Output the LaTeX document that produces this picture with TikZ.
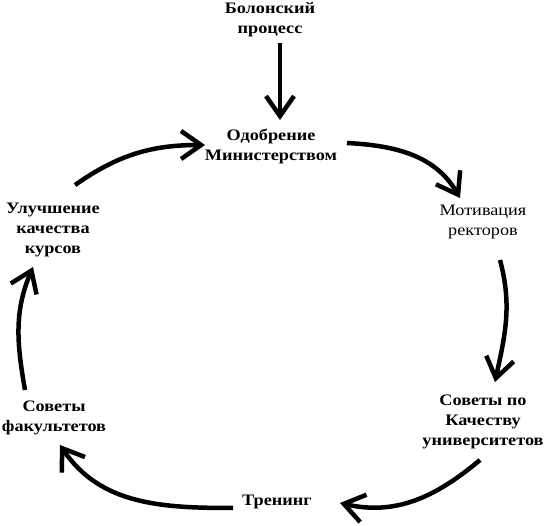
\documentclass[tikz,border=0pt]{standalone}
\usepackage{fontspec}
\setmainfont{Liberation Serif}[FakeStretch=1.14]
\usetikzlibrary{arrows.meta}
\begin{document}
\begin{tikzpicture}[x=1pt,y=1pt,
  lbl/.style={font=\bfseries\fontsize{16}{20}\selectfont, align=center, inner sep=0pt},
  lblr/.style={font=\fontsize{16}{20}\selectfont, align=center, inner sep=0pt},
  arr/.style={line width=4.5pt, -{Straight Barb[length=20pt,width=28pt]}}]
\fill[white] (0,0) rectangle (548,526);
\useasboundingbox (0,0) rectangle (548,526);

\node[lbl]  (bol) at (270,506) {Болонский\\процесс};
\node[lbl]  (odo) at (271,380) {Одобрение\\Министерством};
\node[lblr] (mot) at (483,304) {Мотивация\\ректоров};
\node[lbl]  (sov) at (483,104) {Советы по\\Качеству\\университетов};
\node[lbl]  (tre) at (277,24)  {Тренинг};
\node[lbl]  (fak) at (54,108)  {Советы\\факультетов};
\node[lbl]  (ulu) at (53,296)  {Улучшение\\качества\\курсов};

\draw[arr] ([shift={(10,-23)}]bol.center) -- ([shift={(9,26)}]odo.center);
\draw[arr] ([shift={(22,45)}]ulu.center) to[out=35,in=180] ([shift={(-66,1)}]odo.center);
\draw[arr] ([shift={(76,3)}]odo.center) to[out=-3,in=120] ([shift={(-23,24)}]mot.center);
\draw[arr] ([shift={(17,-38)}]mot.center) to[out=-75,in=78] ([shift={(12,40)}]sov.center);
\draw[arr] ([shift={(-3,-38)}]sov.center) to[out=220,in=347] ([shift={(63,-1)}]tre.center);
\draw[arr] ([shift={(-44,-6)}]tre.center) to[out=180,in=304] ([shift={(6,-27)}]fak.center);
\draw[arr] ([shift={(-29,28)}]fak.center) to[out=100,in=247] ([shift={(-20,-37)}]ulu.center);
\end{tikzpicture}
\end{document}
